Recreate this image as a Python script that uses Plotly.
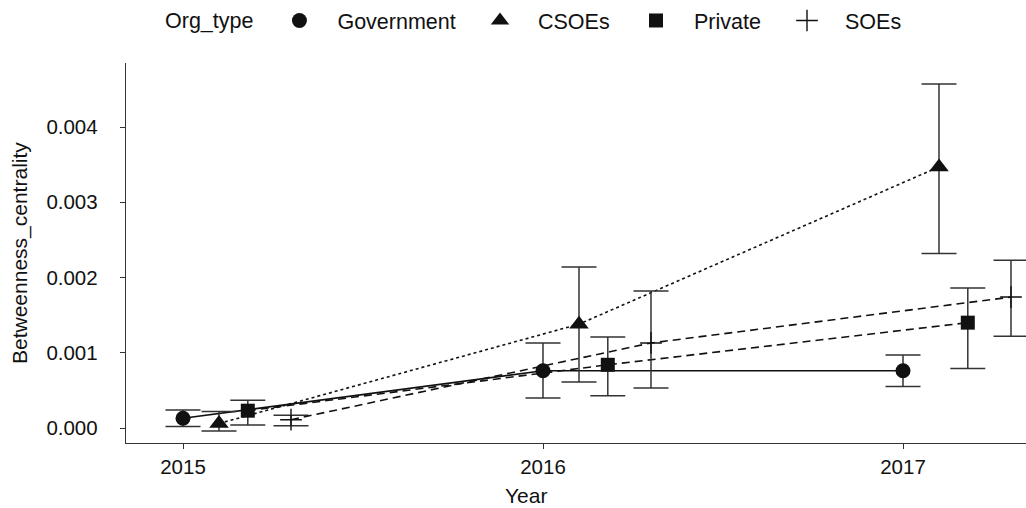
import plotly.graph_objects as go

# ---- data -------------------------------------------------------------
years = [2015, 2016, 2017]
org_types = ["Government", "CSOEs", "Private", "SOEs"]

gov_mean = [0.00013, 0.00076, 0.00076]
gov_lo = [0.00002, 0.00040, 0.00055]
gov_hi = [0.00024, 0.00113, 0.00097]

csoe_mean = [0.00006, 0.00138, 0.00347]
csoe_lo = [-0.00004, 0.00061, 0.00232]
csoe_hi = [0.00022, 0.00214, 0.00457]

priv_mean = [0.00023, 0.00084, 0.00140]
priv_lo = [0.00004, 0.00043, 0.00079]
priv_hi = [0.00037, 0.00121, 0.00186]

soe_mean = [0.00011, 0.00113, 0.00174]
soe_lo = [0.00003, 0.00053, 0.00122]
soe_hi = [0.00017, 0.00182, 0.00223]

y_ticks = [0.000, 0.001, 0.002, 0.003, 0.004]

# ---- styling ----------------------------------------------------------
FONT = "Liberation Sans, Arial, Helvetica, sans-serif"
INK = "#111111"
BAR = "#333333"

series = {
    "Government": dict(mean=gov_mean, lo=gov_lo, hi=gov_hi, dodge=0.00,
                       symbol="circle", size=15, dash="solid"),
    "CSOEs": dict(mean=csoe_mean, lo=csoe_lo, hi=csoe_hi, dodge=0.10,
                  symbol="triangle-up", size=17, dash="3px,3px"),
    "Private": dict(mean=priv_mean, lo=priv_lo, hi=priv_hi, dodge=0.18,
                    symbol="square", size=14, dash="8px,5px"),
    "SOEs": dict(mean=soe_mean, lo=soe_lo, hi=soe_hi, dodge=0.30,
                 symbol="cross-thin", size=15.5, dash="8px,5px"),
}

# pixel geometry of the panel
W, H = 1026, 508
L, R, T, B = 126, 0, 63, 65
PW, PH = W - L - R, H - T - B

def px_x(p):
    return (p - L) / PW

def px_y(p):
    return (H - B - p) / PH

fig = go.Figure()

legend_ids = ["legend", "legend2", "legend3", "legend4"]

for name, lid in zip(org_types, legend_ids):
    s = series[name]
    xs = [yr + s["dodge"] for yr in years]
    plus = [h - m for h, m in zip(s["hi"], s["mean"])]
    minus = [m - l for m, l in zip(s["mean"], s["lo"])]
    marker = dict(symbol=s["symbol"], size=s["size"], color=INK)
    if s["symbol"] == "cross-thin":
        marker["line"] = dict(color=INK, width=1.4)
    fig.add_trace(go.Scatter(
        x=xs, y=s["mean"], mode="lines+markers", name=name,
        line=dict(color=INK, width=1.6, dash=s["dash"]),
        marker=marker,
        error_y=dict(type="data", symmetric=False, array=plus,
                     arrayminus=minus, color=BAR, thickness=1.5, width=17.5),
        showlegend=False, cliponaxis=True,
    ))
    # legend key: marker only
    fig.add_trace(go.Scatter(
        x=[None], y=[None], mode="markers", name=name, marker=marker,
        legend=lid, showlegend=True,
    ))

legend_common = dict(
    orientation="h", yref="paper", y=px_y(20), yanchor="middle",
    xanchor="left", bgcolor="rgba(0,0,0,0)", borderwidth=0,
    font=dict(family=FONT, size=21.5, color=INK), itemwidth=66,
    itemclick=False, itemdoubleclick=False,
)

fig.update_layout(
    width=W, height=H,
    margin=dict(l=L, r=R, t=T, b=B, pad=0),
    paper_bgcolor="white", plot_bgcolor="white",
    font=dict(family=FONT, color=INK),
    legend=dict(legend_common, x=px_x(163),
                title=dict(text="Org_type", side="left",
                           font=dict(family=FONT, size=21.5, color=INK))),
    legend2=dict(legend_common, x=px_x(462)),
    legend3=dict(legend_common, x=px_x(618)),
    legend4=dict(legend_common, x=px_x(769)),
    xaxis=dict(
        range=[2015 - 57 / 360, 2015 + 843 / 360],
        tickmode="array", tickvals=years, ticktext=[str(y) for y in years],
        ticks="outside", ticklen=5, tickwidth=1.3, tickcolor=BAR,
        showline=True, linecolor=BAR, linewidth=1.4,
        showgrid=False, zeroline=False,
        tickfont=dict(family=FONT, size=20.5, color=INK),
    ),
    yaxis=dict(
        range=[-15 / 75.25 * 0.001, 365 / 75.25 * 0.001],
        tickmode="array", tickvals=y_ticks,
        ticktext=[f"{v:.3f}" for v in y_ticks],
        ticks="outside", ticklen=5, tickwidth=1.3, tickcolor=BAR,
        showline=True, linecolor=BAR, linewidth=1.4,
        showgrid=False, zeroline=False,
        tickfont=dict(family=FONT, size=20.5, color=INK),
        ticklabelstandoff=18,
    ),
    annotations=[
        dict(text="Year", xref="paper", yref="paper",
             x=px_x(526), y=px_y(496), xanchor="center", yanchor="middle",
             showarrow=False, font=dict(family=FONT, size=21, color=INK)),
        dict(text="Betweenness_centrality", xref="paper", yref="paper",
             x=px_x(20), y=px_y(253), xanchor="center", yanchor="middle",
             textangle=-90, showarrow=False,
             font=dict(family=FONT, size=21, color=INK)),
    ],
)

fig.write_html("out.html")
